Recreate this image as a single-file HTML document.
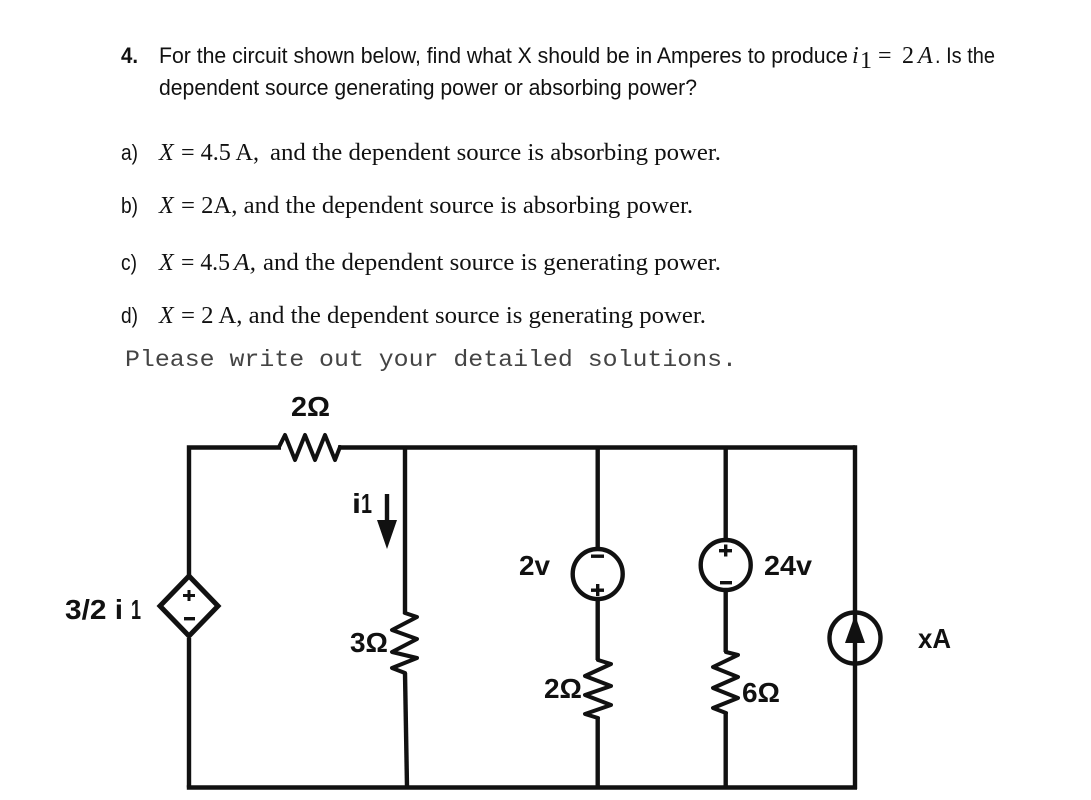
<!DOCTYPE html>
<html>
<head>
<meta charset="utf-8">
<style>
html,body{margin:0;padding:0;background:#fff;width:1091px;height:800px;overflow:hidden}
svg{display:block}
.s{font-family:"Liberation Sans",sans-serif;font-size:22px;fill:#111}
.m{font-family:"Liberation Serif",serif;font-size:24px;fill:#111}
.i{font-style:italic}
.b{font-family:"Liberation Sans",sans-serif;font-weight:bold;font-size:28px;fill:#111}
.c{font-family:"Liberation Mono",monospace;font-size:23px;fill:#444}
.w{fill:none;stroke:#111;stroke-width:4.4;stroke-linejoin:miter;stroke-linecap:butt}
.r{fill:none;stroke:#111;stroke-width:4;stroke-linejoin:round;stroke-linecap:round}
</style>
</head>
<body>
<svg width="1091" height="800" viewBox="0 0 1091 800" xmlns="http://www.w3.org/2000/svg">
<!-- Question text -->
<text class="s" x="121" y="63" font-weight="bold" textLength="17" lengthAdjust="spacingAndGlyphs">4.</text>
<text class="s" x="159" y="63" textLength="689" lengthAdjust="spacingAndGlyphs">For the circuit shown below, find what X should be in Amperes to produce</text>
<text class="m i" x="852" y="63" font-size="22">i</text>
<text class="m" x="860" y="68" font-size="14">1</text>
<text class="m" x="878" y="63" font-size="24">=</text>
<text class="m" x="902" y="63" font-size="23">2</text>
<text class="m i" x="918" y="63" font-size="23">A</text>
<text class="s" x="935" y="63" textLength="60" lengthAdjust="spacingAndGlyphs">. Is the</text>
<text class="s" x="159" y="95" textLength="538" lengthAdjust="spacingAndGlyphs">dependent source generating power or absorbing power?</text>

<!-- Options -->
<text class="s" x="121" y="160" textLength="17" lengthAdjust="spacingAndGlyphs">a)</text>
<text class="m i" x="159" y="160">X</text>
<text class="m" x="181" y="160" textLength="78" lengthAdjust="spacingAndGlyphs">= 4.5 A,</text>
<text class="m" x="270" y="160" textLength="451" lengthAdjust="spacingAndGlyphs">and the dependent source is absorbing power.</text>

<text class="s" x="121" y="213" textLength="17" lengthAdjust="spacingAndGlyphs">b)</text>
<text class="m i" x="159" y="213">X</text>
<text class="m" x="181" y="213" textLength="512" lengthAdjust="spacingAndGlyphs">= 2A, and the dependent source is absorbing power.</text>

<text class="s" x="121" y="270" textLength="16" lengthAdjust="spacingAndGlyphs">c)</text>
<text class="m i" x="159" y="270">X</text>
<text class="m" x="181" y="270" textLength="49" lengthAdjust="spacingAndGlyphs">= 4.5</text>
<text class="m i" x="234" y="270" textLength="22" lengthAdjust="spacingAndGlyphs">A,</text>
<text class="m" x="263" y="270" textLength="458" lengthAdjust="spacingAndGlyphs">and the dependent source is generating power.</text>

<text class="s" x="121" y="323" textLength="17" lengthAdjust="spacingAndGlyphs">d)</text>
<text class="m i" x="159" y="323">X</text>
<text class="m" x="181" y="323" textLength="525" lengthAdjust="spacingAndGlyphs">= 2 A, and the dependent source is generating power.</text>

<text class="c" x="125" y="366" textLength="612" lengthAdjust="spacingAndGlyphs">Please write out your detailed solutions.</text>

<!-- Wires -->
<polyline class="w" points="189,575 189,447.5 281,447.5"/>
<polyline class="w" points="338,447.5 855,447.5"/>
<line class="w" x1="189" y1="638" x2="189" y2="787.5"/>
<line class="w" x1="186.8" y1="787.5" x2="857" y2="787.5"/>
<line class="w" x1="405" y1="447" x2="405" y2="614"/>
<line class="w" x1="405" y1="673" x2="407" y2="787"/>
<line class="w" x1="597.7" y1="447" x2="597.7" y2="549"/>
<line class="w" x1="597.7" y1="600" x2="597.7" y2="660"/>
<line class="w" x1="597.7" y1="718" x2="597.7" y2="787"/>
<line class="w" x1="725.7" y1="447" x2="725.7" y2="540"/>
<line class="w" x1="725.7" y1="591" x2="725.7" y2="652"/>
<line class="w" x1="725.7" y1="713" x2="725.7" y2="787"/>
<line class="w" x1="855" y1="445.3" x2="855" y2="789"/>

<!-- Resistors -->
<polyline class="r" points="279,447 285,435 295,460 305,435 315,460 325,435 335,460 340,447"/>
<polyline class="r" points="405,613 417,617 392,630 417,639 392,652 417,658 392,668 405,673"/>
<polyline class="r" points="598,660 611,664 585,676 611,686 585,695 611,705 585,714 598,718"/>
<polyline class="r" points="726,652 738,655 713,667 738,677 713,688 738,698 713,708 726,713"/>

<!-- Dependent source -->
<polygon points="189,576 218,606 189,636 160,606" fill="#fff" stroke="#111" stroke-width="5"/>
<rect x="183" y="594" width="12" height="3" fill="#111"/>
<rect x="187.5" y="590" width="3" height="11" fill="#111"/>
<rect x="184" y="617" width="11" height="3.4" fill="#111"/>

<!-- i1 arrow -->
<line class="w" x1="387" y1="494" x2="387" y2="522"/>
<polygon points="377,520 397,520 387,549" fill="#111"/>

<!-- Voltage sources -->
<circle cx="597.7" cy="574" r="25" fill="#fff" stroke="#111" stroke-width="4.4"/>
<rect x="591" y="554.5" width="13" height="3.4" fill="#111"/>
<rect x="591" y="588.5" width="13" height="3.4" fill="#111"/>
<rect x="596" y="584" width="3.4" height="12" fill="#111"/>

<circle cx="725.7" cy="565" r="25" fill="#fff" stroke="#111" stroke-width="4.4"/>
<rect x="719" y="549" width="13" height="3.4" fill="#111"/>
<rect x="724" y="544.5" width="3.4" height="12" fill="#111"/>
<rect x="720" y="581" width="12" height="3.4" fill="#111"/>

<!-- Current source -->
<circle cx="855" cy="638" r="25.5" fill="none" stroke="#111" stroke-width="4.4"/>
<polygon points="855,615 865,643 845,643" fill="#111"/>

<!-- Labels -->
<text class="b" x="291" y="416" textLength="39" lengthAdjust="spacingAndGlyphs">2Ω</text>
<text class="b" x="352" y="513" textLength="9" lengthAdjust="spacingAndGlyphs">i</text>
<text class="b" x="361" y="513" font-size="18" textLength="11" lengthAdjust="spacingAndGlyphs">1</text>
<text class="b" x="65" y="619" textLength="58" lengthAdjust="spacingAndGlyphs">3/2 i</text>
<text class="b" x="131" y="619" font-size="18" textLength="10" lengthAdjust="spacingAndGlyphs">1</text>
<text class="b" x="350" y="652" textLength="38" lengthAdjust="spacingAndGlyphs">3Ω</text>
<text class="b" x="544" y="698" textLength="38" lengthAdjust="spacingAndGlyphs">2Ω</text>
<text class="b" x="742" y="702" textLength="38" lengthAdjust="spacingAndGlyphs">6Ω</text>
<text class="b" x="519" y="575" textLength="31" lengthAdjust="spacingAndGlyphs">2v</text>
<text class="b" x="764" y="575" textLength="48" lengthAdjust="spacingAndGlyphs">24v</text>
<text class="b" x="918" y="648" textLength="33" lengthAdjust="spacingAndGlyphs">xA</text>
</svg>
</body>
</html>
